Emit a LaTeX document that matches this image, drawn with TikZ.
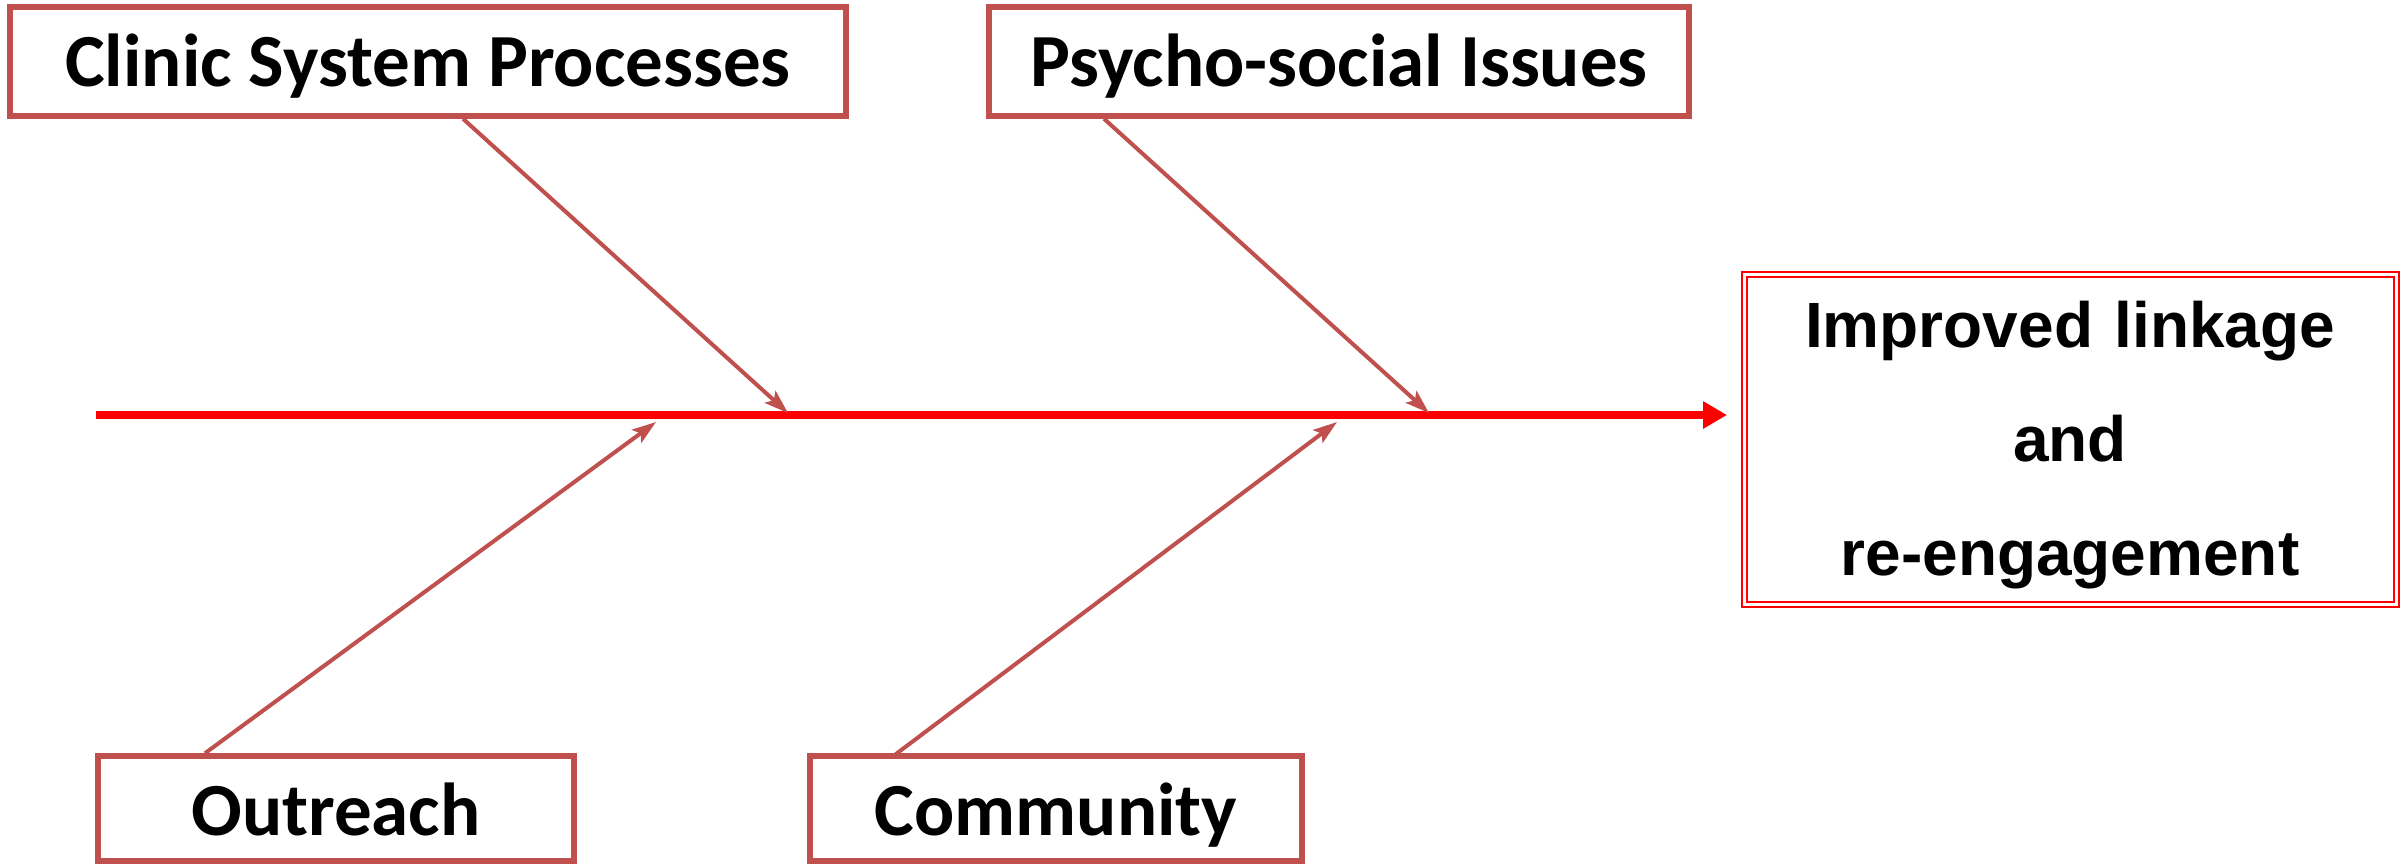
\documentclass[tikz,border=0pt]{standalone}
\usepackage{fontspec}
\usetikzlibrary{arrows.meta}
\newfontfamily\calfont{Carlito}
\newfontfamily\arialfont{Liberation Sans}
\definecolor{boxred}{HTML}{C0504D}
\definecolor{spinered}{HTML}{FF0000}
\tikzset{
  causebox/.style={draw=boxred, line width=5.5pt, fill=white, inner sep=0pt,
    font=\calfont\bfseries\fontsize{75}{90}\selectfont, text height=79pt, text depth=30pt},
  effectbox/.style={draw=spinered, double=white, double distance=3pt, line width=2pt,
    inner sep=0pt, align=center, text width=652pt, text height=73pt, text depth=257pt,
    font=\arialfont\bfseries\fontsize{64}{114}\selectfont},
  bone/.style={draw=boxred, line width=4pt, -{Stealth[length=24pt,width=16pt,inset=5pt]}},
  spine/.style={draw=spinered, line width=8pt, -{Triangle[length=24pt,width=26pt]}}
}
\begin{document}
\begin{tikzpicture}[x=1pt,y=-1pt]
\useasboundingbox (0,0) rectangle (2407,865);
% cause boxes
\node[causebox, minimum width=836pt, anchor=base] (clinic) at (428,86) {Clinic System Processes};
\node[causebox, minimum width=700pt, anchor=base] (psycho) at (1339,86) {Psycho-social Issues};
\node[causebox, minimum width=476pt, anchor=base, text depth=26pt] (outreach) at (336,835) {Outreach};
\node[causebox, minimum width=492pt, anchor=base, text depth=26pt] (community) at (1056,835) {Community};
% effect box
\node[effectbox] (effect) at (2070,439) {Improved linkage\\and\\re-engagement};
% spine
\coordinate (tail) at (96,415);
\coordinate (head) at (1727,415);
\draw[spine] (tail) -- (head);
% bone tips on spine
\coordinate (t1) at (788,413);
\coordinate (t2) at (1429,413);
\coordinate (t3) at (656,422);
\coordinate (t4) at (1337,422);
\draw[bone] ([xshift=35pt]clinic.south) -- (t1);
\draw[bone] ([xshift=-235pt]psycho.south) -- (t2);
\draw[bone] ([xshift=-131pt]outreach.north) -- (t3);
\draw[bone] ([xshift=-163pt,yshift=-3pt]community.north) -- (t4);
\end{tikzpicture}
\end{document}
